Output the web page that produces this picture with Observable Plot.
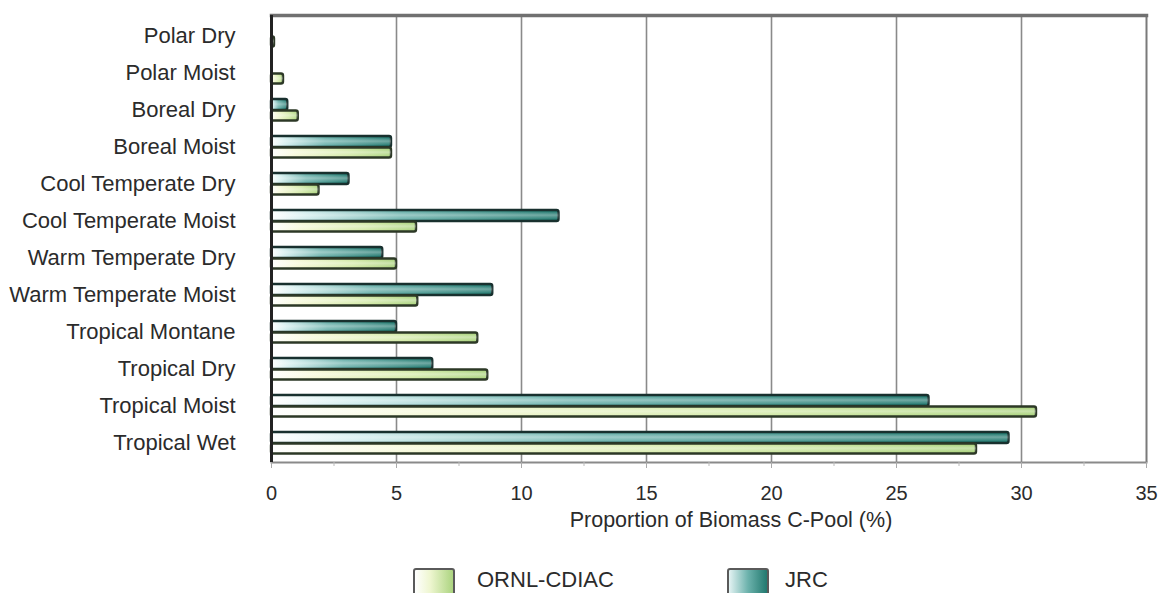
<!DOCTYPE html>
<html>
<head>
<meta charset="utf-8">
<script src="https://cdn.jsdelivr.net/npm/d3@7"></script>
<script src="https://cdn.jsdelivr.net/npm/@observablehq/plot@0.6"></script>
<style>
  body { margin: 0; background: #fff; font-family: "Liberation Sans", Arial, sans-serif; }
  #wrap { position: relative; width: 1166px; height: 593px; overflow: hidden; }
  #legend { position: absolute; left: 0; top: 545px; width: 1166px; height: 48px; }
  .sw { position: absolute; top: 23px; width: 42px; height: 30px; border: 2px solid #5a5a5a; border-radius: 3px; box-sizing: border-box; }
  .lt { position: absolute; top: 24px; font-size: 22px; line-height: 22px; color: #2b2b2b; }
</style>
</head>
<body>
<div id="wrap">
  <div id="chart"></div>
  <div id="legend"></div>
</div>
<script>
// ---- data ----
const categories = [
  "Polar Dry", "Polar Moist", "Boreal Dry", "Boreal Moist",
  "Cool Temperate Dry", "Cool Temperate Moist", "Warm Temperate Dry",
  "Warm Temperate Moist", "Tropical Montane", "Tropical Dry",
  "Tropical Moist", "Tropical Wet"
];
const jrcValues  = [0, 0, 0.65, 4.8, 3.1, 11.5, 4.45, 8.85, 5.0, 6.45, 26.3, 29.5];
const ornlValues = [0.12, 0.48, 1.07, 4.8, 1.9, 5.8, 5.0, 5.85, 8.25, 8.65, 30.6, 28.2];
const seriesNames = ["ORNL-CDIAC", "JRC"];
const xTicks = [0, 5, 10, 15, 20, 25, 30, 35];
const xMinorTicks = [2.5, 7.5, 12.5, 17.5, 22.5, 27.5, 32.5];
const xGridTicks = [5, 10, 15, 20, 25, 30];
const xLabel = "Proportion of Biomass C-Pool (%)";

const rows = categories.flatMap((c, i) => [
  {category: c, series: "JRC", value: jrcValues[i]},
  {category: c, series: "ORNL-CDIAC", value: ornlValues[i]}
]);
const jrcRows = rows.filter(d => d.series === "JRC" && d.value > 0);
const ornlRows = rows.filter(d => d.series === "ORNL-CDIAC" && d.value > 0);

const defs = () => {
  const d = d3.create("svg:defs");
  const g1 = d.append("linearGradient").attr("id", "gJRC").attr("x1", 0).attr("x2", 1).attr("y1", 0).attr("y2", 0);
  [[0, "#ffffff"], [0.12, "#d2eeee"], [0.45, "#6cb2ac"], [1, "#22796f"]].forEach(([o, c]) => g1.append("stop").attr("offset", o).attr("stop-color", c));
  const g2 = d.append("linearGradient").attr("id", "gORNL").attr("x1", 0).attr("x2", 1).attr("y1", 0).attr("y2", 0);
  [[0, "#ffffff"], [0.2, "#f6f9d8"], [0.65, "#d3eaa8"], [1, "#acd480"]].forEach(([o, c]) => g2.append("stop").attr("offset", o).attr("stop-color", c));
  const g3 = d.append("linearGradient").attr("id", "gHi").attr("x1", 0).attr("x2", 0).attr("y1", 0).attr("y2", 1);
  [[0, "#ffffff", 0], [0.45, "#ffffff", 0.35], [1, "#ffffff", 0]].forEach(([o, c, a]) => g3.append("stop").attr("offset", o).attr("stop-color", c).attr("stop-opacity", a));
  return d.node();
};

const chart = Plot.plot({
  width: 1166,
  height: 545,
  marginLeft: 271,
  marginRight: 20,
  marginTop: 15,
  marginBottom: 83,
  style: {fontFamily: "'Liberation Sans', Arial, sans-serif", color: "#2b2b2b", background: "#fff"},
  x: {domain: [0, 35]},
  y: {domain: categories, padding: 0},
  marks: [
    defs,
    Plot.gridX(xGridTicks, {stroke: "#8a8a8a", strokeOpacity: 1, strokeWidth: 1.6}),
    Plot.ruleX([35], {stroke: "#7a7a7a", strokeWidth: 2}),
    Plot.frame({anchor: "top", stroke: "#707070", strokeWidth: 3.5}),
    Plot.frame({anchor: "bottom", stroke: "#8a8a8a", strokeWidth: 2}),
    Plot.barX(jrcRows, {x: "value", y: "category", insetTop: 8, insetBottom: 18, fill: "url(#gJRC)", stroke: "#18302e", strokeWidth: 2.4, rx: 2}),
    Plot.barX(jrcRows, {x: "value", y: "category", insetTop: 9.5, insetBottom: 19.5, fill: "url(#gHi)"}),
    Plot.barX(ornlRows, {x: "value", y: "category", insetTop: 19.5, insetBottom: 7.5, fill: "url(#gORNL)", stroke: "#2c3826", strokeWidth: 2.4, rx: 2}),
    Plot.barX(ornlRows, {x: "value", y: "category", insetTop: 21, insetBottom: 9, fill: "url(#gHi)"}),
    Plot.ruleX([0], {stroke: "#222", strokeWidth: 3}),
    Plot.axisY({tickSize: 0, tickPadding: 36, fontSize: 22, label: null, fill: "#2b2b2b"}),
    Plot.axisX({ticks: xTicks, tickSize: 6, tickPadding: 17, fontSize: 20, label: null, stroke: "#aaa", fill: "#2b2b2b"}),
    Plot.axisX({ticks: xMinorTicks, tickSize: 4, text: null, label: null, stroke: "#bbb"}),
    Plot.text([xLabel], {frameAnchor: "bottom", lineAnchor: "middle", dy: 58, dx: 22, fontSize: 21.5, fill: "#2b2b2b"})
  ]
});
document.getElementById("chart").appendChild(chart);

// ---- legend ----
const legend = d3.select("#legend");
const legendItems = [
  {name: seriesNames[0], grad: "linear-gradient(to right, #ffffff, #eef6d0 40%, #acd480)", sx: 413, tx: 477},
  {name: seriesNames[1], grad: "linear-gradient(to right, #e4f3f3, #6cb2ac 50%, #22796f)", sx: 727, tx: 785}
];
legendItems.forEach(it => {
  legend.append("div").attr("class", "sw").style("left", it.sx + "px").style("background", it.grad);
  legend.append("div").attr("class", "lt").style("left", it.tx + "px").text(it.name);
});
</script>
</body>
</html>
